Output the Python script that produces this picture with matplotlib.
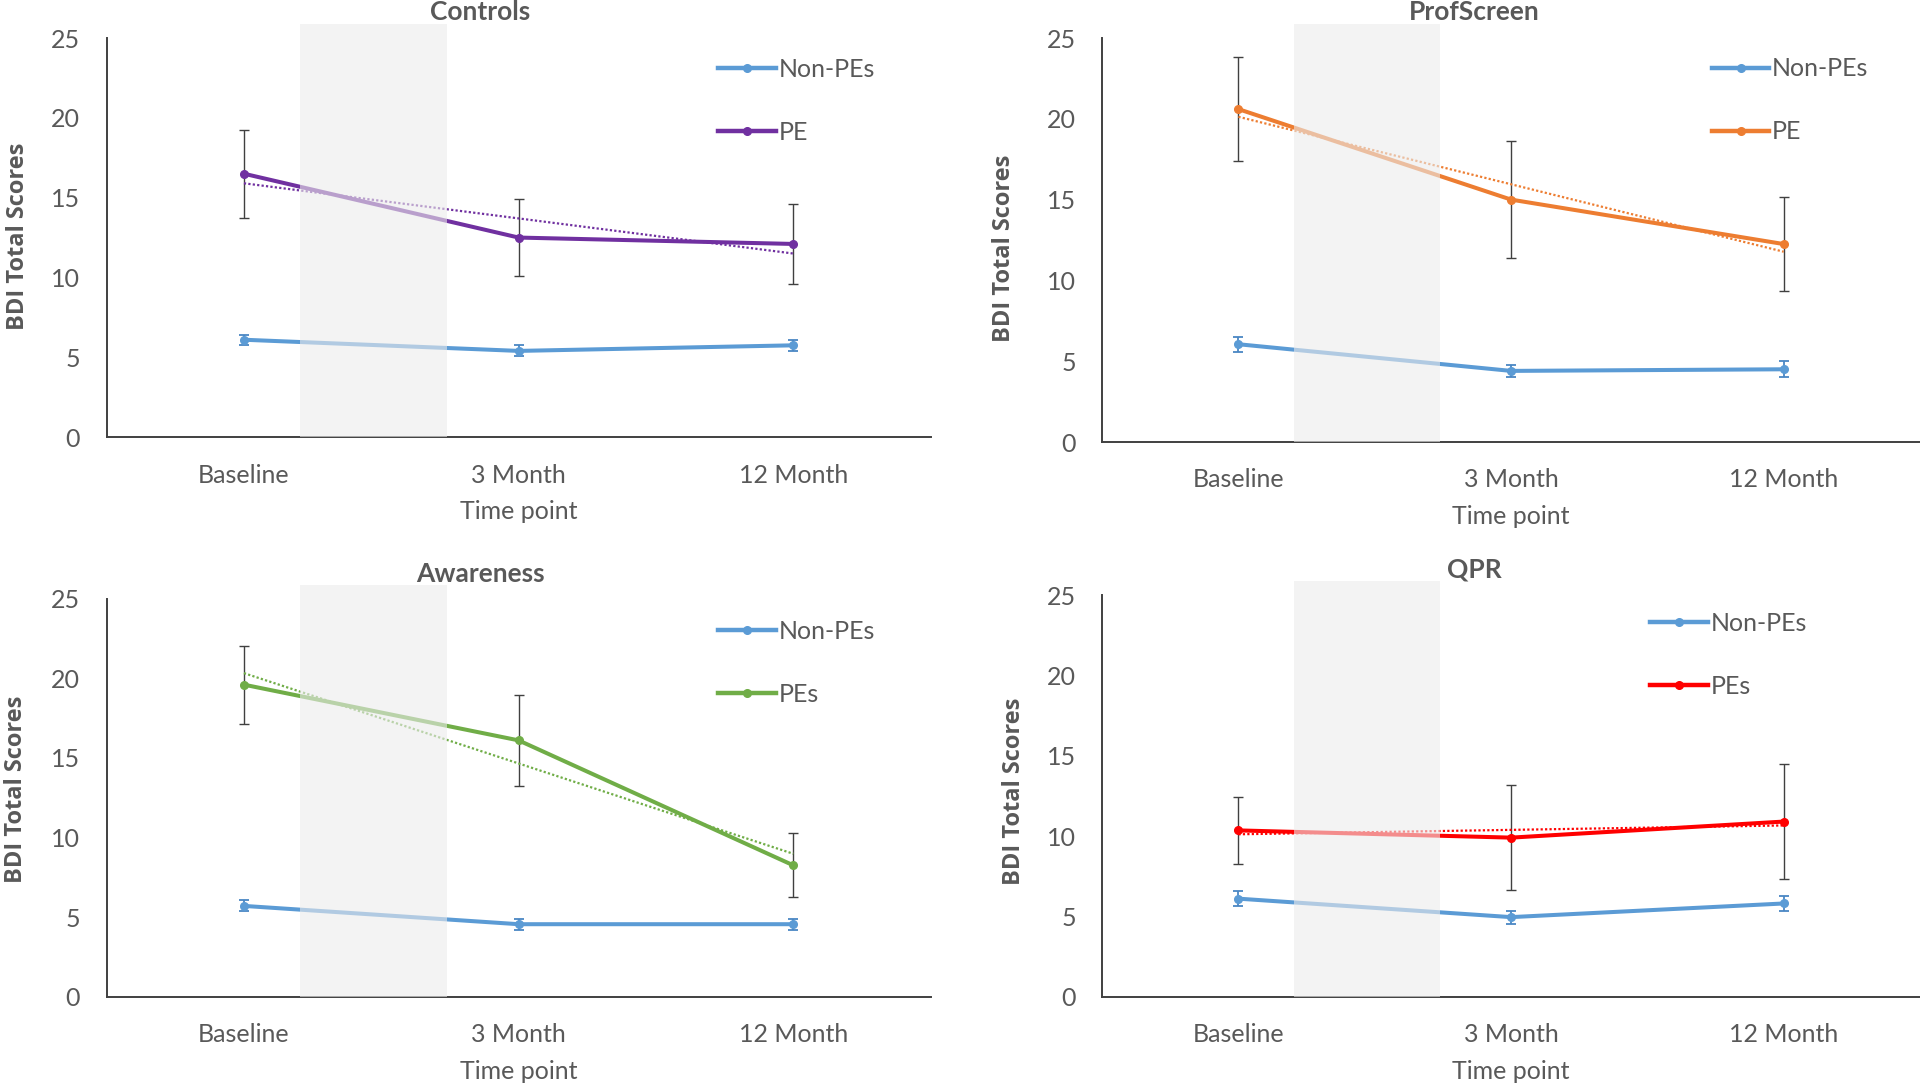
import numpy as np
import matplotlib
matplotlib.use("Agg")
import matplotlib.pyplot as plt
from matplotlib.patches import Rectangle
from matplotlib.lines import Line2D

# ---------------- data ----------------
timepoints = ["Baseline", "3 Month", "12 Month"]

titles = ["Controls", "ProfScreen", "Awareness", "QPR"]
pe_labels = ["PE", "PE", "PEs", "PEs"]
pe_colors = ["#7030A0", "#ED7D31", "#70AD47", "#FF0000"]

nonpe_controls = [6.1, 5.4, 5.75]
nonpe_controls_err = [0.3, 0.35, 0.35]
pe_controls = [16.5, 12.5, 12.1]
pe_controls_err = [2.75, 2.4, 2.5]

nonpe_profscreen = [6.05, 4.4, 4.5]
nonpe_profscreen_err = [0.45, 0.35, 0.5]
pe_profscreen = [20.6, 15.0, 12.25]
pe_profscreen_err = [3.2, 3.6, 2.9]

nonpe_awareness = [5.7, 4.55, 4.55]
nonpe_awareness_err = [0.35, 0.35, 0.35]
pe_awareness = [19.6, 16.1, 8.25]
pe_awareness_err = [2.45, 2.85, 2.0]

nonpe_qpr = [6.1, 4.95, 5.8]
nonpe_qpr_err = [0.45, 0.4, 0.45]
pe_qpr = [10.35, 9.9, 10.9]
pe_qpr_err = [2.1, 3.25, 3.6]

nonpe_color = "#5B9BD5"

panels = [
    (nonpe_controls, nonpe_controls_err, pe_controls, pe_controls_err),
    (nonpe_profscreen, nonpe_profscreen_err, pe_profscreen, pe_profscreen_err),
    (nonpe_awareness, nonpe_awareness_err, pe_awareness, pe_awareness_err),
    (nonpe_qpr, nonpe_qpr_err, pe_qpr, pe_qpr_err),
]

# ---------------- layout ----------------
axes_rects = [
    [0.0555, 0.5975, 0.4292, 0.3675],
    [0.574, 0.593, 0.426, 0.372],
    [0.0555, 0.0823, 0.4292, 0.3664],
    [0.574, 0.0823, 0.426, 0.3697],
]
title_pos = [(0.250, 0.989), (0.768, 0.989), (0.250, 0.471), (0.768, 0.476)]
ylabel_pos = [(0.0095, 0.782), (0.523, 0.771), (0.0085, 0.273), (0.528, 0.271)]
legend_anchor = [(0.7425, 0.950), (0.7455, 0.952), (0.7425, 0.947), (0.6705, 0.958)]

text_grey = "#595959"
axis_grey = "#404040"
font = ["Lato", "DejaVu Sans"]
plt.rcParams["font.family"] = font

fig = plt.figure(figsize=(19.2, 10.86), dpi=100)
x = np.arange(len(timepoints))

for i, (npv, npe, pv, pe) in enumerate(panels):
    ax = fig.add_axes(axes_rects[i])
    ax.set_xlim(-0.5, 2.5)
    ax.set_ylim(0, 25)
    ax.set_yticks([0, 5, 10, 15, 20, 25])
    ax.set_xticks(x)
    ax.set_xticklabels(timepoints)
    for s in ["top", "right"]:
        ax.spines[s].set_visible(False)
    for s in ["left", "bottom"]:
        ax.spines[s].set_color(axis_grey)
        ax.spines[s].set_linewidth(1.4)
    ax.tick_params(axis="y", length=0, pad=19, labelsize=18, labelcolor=text_grey)
    ax.tick_params(axis="x", length=0, pad=19, labelsize=18, labelcolor=text_grey)

    # non-PE series
    ax.errorbar(x, npv, yerr=npe, fmt="none", ecolor="#4A87C4", elinewidth=1.3,
                capsize=3.5, capthick=1.3, zorder=2)
    ax.plot(x, npv, color=nonpe_color, lw=2.9, marker="o", ms=5.5, zorder=3)

    # PE series
    ax.errorbar(x, pv, yerr=pe, fmt="none", ecolor="#404040", elinewidth=1.0,
                capsize=3.5, capthick=1.0, zorder=2)
    ax.plot(x, pv, color=pe_colors[i], lw=2.9, marker="o", ms=5.5, zorder=3)

    # linear trendline
    coef = np.polyfit(x, pv, 1)
    ax.plot(x, np.polyval(coef, x), color=pe_colors[i], lw=1.6, ls=(0, (1, 1)), zorder=3)

    # shaded band (overlay)
    band = Rectangle((0.205, 0), 0.535, 25.85, facecolor="#ebebeb", edgecolor="none",
                     alpha=0.6, zorder=5, clip_on=False)
    ax.add_patch(band)

    ax.set_xlabel("Time point", fontsize=18, color=text_grey, labelpad=10)

    handles = [
        Line2D([], [], color=nonpe_color, lw=3.2, marker="o", ms=5.5),
        Line2D([], [], color=pe_colors[i], lw=3.2, marker="o", ms=5.5),
    ]
    leg = ax.legend(handles, ["Non-PEs", pe_labels[i]], loc="upper left",
                    bbox_to_anchor=legend_anchor[i], frameon=False, fontsize=18,
                    handlelength=2.3, handletextpad=0.1, labelspacing=1.6,
                    borderpad=0, borderaxespad=0, numpoints=1)
    for t in leg.get_texts():
        t.set_color(text_grey)

    fig.text(title_pos[i][0], title_pos[i][1], titles[i], ha="center", va="center",
             fontsize=19, fontweight="bold", color=text_grey)
    fig.text(ylabel_pos[i][0], ylabel_pos[i][1], "BDI Total Scores", ha="center", va="center",
             rotation=90, fontsize=17, fontweight="bold", color=text_grey,
             family=["Open Sans", "DejaVu Sans"])

fig.savefig("out.png", dpi=100, facecolor="white")
